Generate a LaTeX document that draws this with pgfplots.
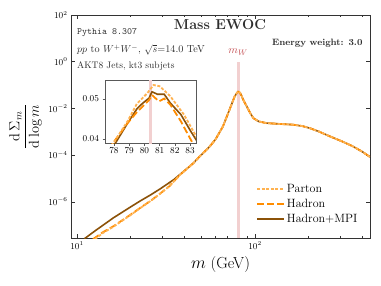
\documentclass[border=0pt]{standalone}
\usepackage{pgfplots}
\pgfplotsset{compat=1.18}
\definecolor{parton}{RGB}{255,178,80}
\definecolor{hadron}{RGB}{255,140,0}
\definecolor{mpi}{RGB}{140,82,8}
\definecolor{mwline}{RGB}{242,208,208}
\definecolor{mwtext}{RGB}{196,78,82}
\definecolor{txt}{RGB}{45,45,45}
\pgfplotsset{
  partonstyle/.style={parton, line width=1.8pt, dash pattern=on 3pt off 1.6pt},
  hadronstyle/.style={hadron, line width=1.8pt, dash pattern=on 7pt off 3pt},
  mpistyle/.style={mpi, line width=1.6pt},
}
\begin{document}
\begin{tikzpicture}
\useasboundingbox (0,0) rectangle (381pt,285pt);
\begin{axis}[
  at={(71pt,47pt)}, anchor=south west, scale only axis,
  width=299pt, height=223pt,
  xmode=log, ymode=log,
  xmin=9.25, xmax=443, ymin=2.8e-8, ymax=100,
  xtick={10,100}, minor xtick={20,30,40,50,60,70,80,90,200,300,400},
  ytick={1e-6,1e-4,1e-2,1,100}, yminorticks=false,
  tick align=inside, major tick length=4pt, minor tick length=2.3pt,
  axis line style={black!80}, every tick/.style={black!80},
  tick label style={font=\fontsize{9}{10}\selectfont},
  xlabel={$m$ (GeV)},
  xlabel style={at={(rel axis cs:0.5,-0.119)}, anchor=center, font=\fontsize{16}{18}\selectfont},
  ylabel={$\displaystyle\frac{\mathrm{d}\,\Sigma_m}{\mathrm{d}\log m}$},
  ylabel style={at={(rel axis cs:-0.152,0.5)}, anchor=center, font=\fontsize{14}{16}\selectfont},
  legend image code/.code={\draw[#1] (-5pt,0pt) -- (22pt,0pt);},
  legend style={at={(rel axis cs:0.975,0.045)}, anchor=south east, draw=none, fill=none,
    font=\fontsize{12}{13}\selectfont, row sep=1pt},
  legend cell align=left,
]
\addlegendimage{partonstyle}
\addlegendentry{Parton}
\addlegendimage{hadronstyle}
\addlegendentry{Hadron}
\addlegendimage{mpistyle}
\addlegendentry{Hadron+MPI}

\addplot[mwline, line width=3pt, forget plot] coordinates {(80.4,2.8e-8) (80.4,1)};

\addplot[mpistyle, forget plot] coordinates {
(11.0,2.6e-8) (12.6,5.6e-8) (16,2.04e-7) (20,6.0e-7) (22.6,1.07e-6) (26,2.0e-6)
(29.3,3.55e-6) (35,8.9e-6) (40,2.09e-5) (45,4.47e-5) (49,8.9e-5) (55,2.09e-4)
(60,4.68e-4) (66,1.66e-3) (72,8.9e-3) (75,0.02) (77.0,0.0335) (78.1,0.039)
(78.9,0.044) (79.5,0.0475) (79.9,0.049) (80.3,0.0502) (80.5,0.0518) (80.85,0.0512)
(81.3,0.0512) (81.7,0.049) (82.4,0.0461) (83.05,0.0419) (83.4,0.0398) (84,0.0355)
(85,0.0282) (87.5,0.0178) (90,0.0120) (94,6.3e-3) (98,3.8e-3) (105,2.75e-3)
(116,2.34e-3) (140,2.14e-3) (164,2.0e-3) (185,1.74e-3) (204,1.41e-3) (230,1.0e-3)
(264,6.3e-4) (310,3.8e-4) (356,2.34e-4) (400,1.41e-4) (443,8.3e-5)};

\addplot[hadronstyle, forget plot] coordinates {
(12.3,2.5e-8) (14,5e-8) (16,8.9e-8) (20,2.8e-7) (22.6,5.4e-7) (26,1.12e-6)
(29.3,2.24e-6) (33,4.6e-6) (38,1.45e-5) (45,4.45e-5) (49,8.9e-5) (55,2.09e-4)
(60,4.68e-4) (66,1.66e-3) (72,8.9e-3) (75,0.02) (77.0,0.033) (77.9,0.0388)
(78.9,0.044) (79.5,0.0467) (80.3,0.0497) (80.5,0.051) (80.95,0.0494) (81.3,0.0501)
(81.7,0.0486) (82.4,0.0444) (83.05,0.0398) (83.4,0.0375) (84,0.034)
(85,0.0275) (87.5,0.0176) (90,0.0119) (94,6.3e-3) (98,3.8e-3) (105,2.75e-3)
(116,2.34e-3) (140,2.14e-3) (164,2.0e-3) (185,1.74e-3) (204,1.41e-3) (230,1.0e-3)
(264,6.3e-4) (310,3.8e-4) (356,2.34e-4) (400,1.41e-4) (443,8.3e-5)};

\addplot[partonstyle, forget plot] coordinates {
(12.6,2.5e-8) (14,4.6e-8) (16,8.5e-8) (20,2.7e-7) (22.6,5.3e-7) (26,1.1e-6)
(29.3,2.2e-6) (33,4.6e-6) (38,1.45e-5) (45,4.45e-5) (49,8.9e-5) (55,2.09e-4)
(60,4.68e-4) (66,1.66e-3) (72,8.9e-3) (75,0.02) (77.0,0.0335) (78.0,0.0392)
(78.9,0.0445) (79.5,0.0488) (80.2,0.0515) (80.6,0.0535) (81.0,0.0532) (81.7,0.0507)
(82.6,0.0461) (83.4,0.0407) (84,0.036)
(85,0.0285) (87.5,0.0179) (90,0.0121) (94,6.3e-3) (98,3.8e-3) (105,2.75e-3)
(116,2.34e-3) (140,2.14e-3) (164,2.0e-3) (185,1.74e-3) (204,1.41e-3) (230,1.0e-3)
(264,6.3e-4) (310,3.8e-4) (356,2.34e-4) (400,1.41e-4) (443,8.3e-5)};

\node[mwtext, font=\fontsize{11}{12}\selectfont] at (axis cs:80.4,2.6) {$m_W$};
\end{axis}

\begin{axis}[
  at={(105pt,142pt)}, anchor=south west, scale only axis,
  width=91pt, height=63pt,
  xmin=77.41, xmax=83.39, ymin=0.039, ymax=0.05475,
  xtick={78,79,80,81,82,83}, ytick={0.04,0.05}, yticklabels={0.04,0.05},
  scaled y ticks=false, scaled x ticks=false,
  tick align=outside, xtick pos=bottom, ytick pos=left, major tick length=2.5pt,
  axis background/.style={fill=white},
  axis line style={black!65}, every tick/.style={black!65},
  tick label style={font=\fontsize{9}{10}\selectfont},
  xticklabel style={yshift=1pt},
]
\addplot[mwline, line width=3pt] coordinates {(80.4,0.03) (80.4,0.06)};
\addplot[mpistyle] coordinates {
(77.0,0.0335) (78.1,0.039) (78.9,0.044) (79.5,0.0475) (79.9,0.049) (80.3,0.0502)
(80.5,0.0518) (80.85,0.0512) (81.3,0.0512) (81.7,0.049) (82.4,0.0461) (83.05,0.0419)
(83.4,0.0398) (84,0.0355)};
\addplot[hadronstyle] coordinates {
(77.0,0.033) (77.9,0.0388) (78.9,0.044) (79.5,0.0467) (80.3,0.0497) (80.5,0.051)
(80.95,0.0494) (81.3,0.0501) (81.7,0.0486) (82.4,0.0444) (83.05,0.0398) (83.4,0.0375)
(84,0.034)};
\addplot[partonstyle] coordinates {
(77.0,0.0335) (78.0,0.0392) (78.9,0.0445) (79.5,0.0488) (80.2,0.0515) (80.6,0.0535)
(81.0,0.0532) (81.7,0.0507) (82.6,0.0461) (83.4,0.0407) (84,0.036)};
\end{axis}

\node[txt, font=\fontsize{14.4}{16}\selectfont\bfseries] at (220pt,260pt) {Mass EWOC};
\node[txt, anchor=east, font=\fontsize{9.2}{11}\selectfont\bfseries] at (366pt,242pt) {Energy weight: 3.0};
\node[txt, anchor=west, inner sep=0pt, font=\fontsize{9.5}{11}\selectfont\ttfamily] at (77pt,252pt) {Pythia 8.307};
\node[txt, anchor=west, inner sep=0pt, font=\fontsize{10.2}{12}\selectfont] at (77pt,235pt) {$pp$ to $W^{+}W^{-}$, $\sqrt{s}$=14.0 TeV};
\node[txt, anchor=west, inner sep=0pt, font=\fontsize{9.5}{11}\selectfont] at (77pt,219pt) {AKT8 Jets, kt3 subjets};
\end{tikzpicture}
\end{document}
